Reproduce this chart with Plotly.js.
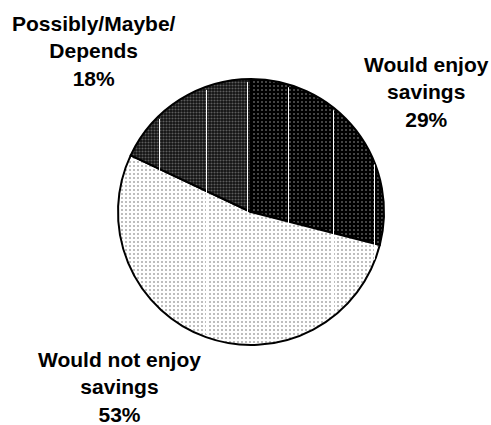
<!DOCTYPE html>
<html>
<head>
<meta charset="utf-8">
<script src="https://cdn.plot.ly/plotly-3.0.1.min.js"></script>
<style>html,body{margin:0;padding:0;background:#fff;}#chart{width:491px;height:425px;}</style>
</head>
<body>
<div id="chart"></div>
<script>
// Data
const labels = ["Would enjoy savings", "Would not enjoy savings", "Possibly/Maybe/Depends"];
const labelLines = [["Would enjoy", "savings"], ["Would not enjoy", "savings"], ["Possibly/Maybe/", "Depends"]];
const values = [29, 53, 18];

const W = 491, H = 425;
const cx = 251, cy = 212, R = 133;

const trace = {
  type: "pie",
  labels: labels,
  values: values,
  sort: false,
  direction: "clockwise",
  rotation: 0,
  textinfo: "none",
  hoverinfo: "label+percent",
  showlegend: false,
  domain: {x: [(cx - R) / W, (cx + R) / W], y: [1 - (cy + R) / H, 1 - (cy - R) / H]},
  marker: {
    colors: ["#000000", "#ffffff", "#111111"],
    line: {color: "#000000", width: 2},
    pattern: {
      shape: [".", ".", "."],
      fgcolor: ["#5a5a5a", "#a8a8a8", "#5c5c5c"],
      bgcolor: ["#000000", "#ffffff", "#111111"],
      size: [4, 4, 3],
      solidity: [0.2, 0.2, 0.4],
      fillmode: "replace"
    }
  }
};

// thin white hatch lines seen across the dark slices (drawn inside the circle)
const hatchX = [159, 206, 247, 288, 333, 374];
const shapes = hatchX.map(px => {
  const dy = Math.sqrt(R * R - (px - cx) * (px - cx)) - 3;
  const xc = px + 0.5;
  return {
    type: "line", xref: "paper", yref: "paper", layer: "above",
    x0: xc / W, x1: xc / W,
    y0: 1 - (cy - dy) / H, y1: 1 - (cy + dy) / H,
    line: {color: "#ffffff", width: 1}
  };
});

// label positions (pixel centres of each label block)
const labelPos = [[426, 92], [119, 387], [94, 51]];
const annotations = labels.map((l, i) => ({
  xref: "paper", yref: "paper",
  x: labelPos[i][0] / W, y: 1 - labelPos[i][1] / H,
  xanchor: "center", yanchor: "middle",
  showarrow: false,
  align: "center",
  text: "<b>" + labelLines[i].join("<br>") + "<br>" + values[i] + "%</b>",
  font: {family: "Liberation Sans, Arial, sans-serif", size: 21, color: "#000"}
}));

const layout = {
  width: W, height: H,
  margin: {l: 0, r: 0, t: 0, b: 0},
  paper_bgcolor: "#ffffff",
  plot_bgcolor: "#ffffff",
  annotations: annotations,
  shapes: shapes,
  showlegend: false
};

Plotly.newPlot("chart", [trace], layout, {displayModeBar: false, staticPlot: true});
</script>
</body>
</html>
